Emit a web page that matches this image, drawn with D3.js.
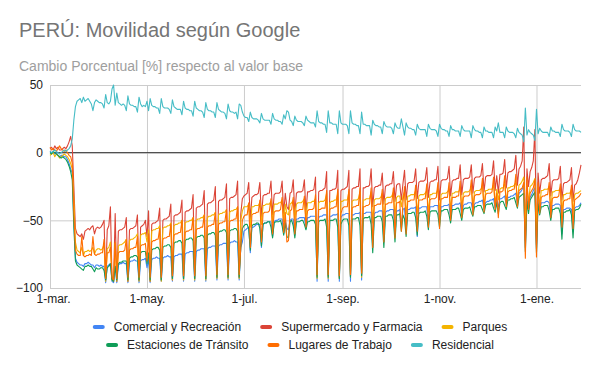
<!DOCTYPE html>
<html>
<head>
<meta charset="utf-8">
<script src="https://cdn.jsdelivr.net/npm/d3@7"></script>
<style>
  body { margin: 0; background: #fff; }
  text { font-family: Arial, "Liberation Sans", sans-serif; }
</style>
</head>
<body>
<svg id="chart"></svg>
<script>
const WIDTH = 600;
const HEIGHT = 371;
const PLOT = { left: 50, right: 581, top: 85, bottom: 288 };

const START_DATE = "2020-03-01";   // daily values, one per day from this date

const seriesNames = ["Comercial y Recreación", "Supermercado y Farmacia", "Parques",
                     "Estaciones de Tránsito", "Lugares de Trabajo", "Residencial"];
const seriesColors = ["#4285f4", "#db4437", "#f4b400", "#0f9d58", "#ff6d01", "#46bdc6"];

const tickDates = ["2020-03-01", "2020-05-01", "2020-07-01", "2020-09-01", "2020-11-01", "2021-01-01"];
const tickLabels = ["1-mar.", "1-may.", "1-jul.", "1-sep.", "1-nov.", "1-ene."];
const yTicks = [-100, -50, 0, 50];

// one line = two weeks (Sun..Sat)
const comercial = [
  1, 0, 0, -1, 0, -2, -3,   -2, -2, -3, -3, -5, -8, -12,
  -15, -50, -78, -81, -82, -83, -83,   -84, -82, -82, -81, -82, -83, -83,
  -85, -83, -83, -84, -83, -84, -84,   -96, -84, -83, -82, -95, -96, -84,
  -96, -83, -82, -82, -81, -82, -82,   -96, -81, -80, -80, -79, -80, -80,
  -96, -80, -79, -79, -78, -85, -79,   -96, -79, -78, -78, -77, -78, -78,
  -95, -78, -77, -77, -76, -77, -77,   -95, -77, -76, -76, -75, -75, -75,
  -95, -75, -74, -74, -73, -73, -73,   -95, -73, -72, -72, -71, -71, -71,
  -95, -71, -70, -70, -69, -69, -69,   -94, -69, -68, -68, -67, -67, -67,
  -94, -67, -66, -66, -65, -66, -66,   -94, -70, -66, -58, -57, -56, -55,
  -74, -55, -55, -54, -53, -53, -53,   -70, -53, -52, -52, -51, -51, -51,
  -62, -51, -50, -50, -49, -49, -49,   -60, -50, -56, -57, -50, -49, -49,
  -61, -49, -49, -48, -48, -48, -48,   -56, -48, -48, -47, -47, -47, -47,
  -95, -48, -47, -47, -46, -46, -46,   -95, -47, -47, -46, -46, -46, -45,
  -95, -48, -46, -46, -45, -45, -45,   -95, -46, -46, -45, -45, -45, -44,
  -94, -45, -45, -44, -44, -44, -44,   -70, -45, -44, -44, -43, -43, -43,
  -66, -44, -43, -43, -42, -42, -42,   -62, -43, -43, -42, -55, -42, -41,
  -58, -42, -42, -41, -41, -41, -40,   -62, -41, -41, -40, -40, -40, -40,
  -54, -40, -40, -40, -39, -39, -39,   -52, -40, -40, -39, -39, -39, -38,
  -49, -39, -39, -38, -38, -38, -37,   -47, -39, -38, -38, -37, -37, -37,
  -44, -38, -37, -37, -36, -36, -35,   -42, -37, -36, -36, -35, -35, -34,
  -41, -35, -40, -34, -34, -33, -32,   -39, -33, -33, -32, -32, -31, -30,
  -38, -30, -29, -27, -25, -70, -32,   -42, -33, -31, -28, -26, -71, -35,
  -44, -37, -37, -37, -36, -36, -37,   -48, -39, -39, -38, -38, -38, -39,
  -60, -42, -42, -41, -41, -41, -42,   -58, -41, -40, -40, -39, -37
];

const supermercado = [
  3, 4, 2, 5, 3, 4, 2,   2, 3, 4, 3, 5, 8, 12,
  5, -25, -56, -60, -61, -62, -60,   -64, -58, -57, -56, -57, -55, -54,
  -60, -56, -55, -56, -55, -53, -50,   -94, -57, -54, -40, -93, -95, -45,
  -95, -58, -57, -57, -56, -55, -48,   -95, -57, -56, -56, -55, -54, -46,
  -94, -55, -54, -53, -50, -62, -43,   -95, -53, -52, -52, -51, -50, -41,
  -94, -50, -49, -49, -48, -47, -38,   -94, -47, -46, -46, -45, -44, -35,
  -93, -44, -43, -43, -42, -41, -31,   -93, -41, -40, -40, -39, -38, -28,
  -93, -38, -37, -37, -36, -35, -25,   -92, -36, -35, -35, -34, -33, -23,
  -92, -34, -33, -33, -32, -31, -21,   -92, -45, -34, -32, -31, -30, -22,
  -50, -33, -32, -31, -31, -30, -22,   -48, -32, -31, -31, -30, -30, -21,
  -46, -31, -30, -30, -30, -29, -21,   -45, -30, -40, -42, -30, -29, -20,
  -45, -30, -29, -29, -29, -28, -20,   -44, -29, -29, -28, -28, -27, -18,
  -91, -29, -28, -28, -27, -26, -14,   -91, -28, -28, -27, -27, -26, -13,
  -92, -28, -27, -27, -26, -25, -13,   -91, -27, -26, -26, -25, -25, -12,
  -90, -26, -26, -25, -25, -24, -12,   -40, -26, -25, -25, -24, -24, -15,
  -38, -25, -24, -24, -23, -23, -14,   -36, -24, -23, -23, -35, -23, -13,
  -35, -23, -22, -22, -22, -21, -12,   -34, -22, -21, -21, -21, -20, -11,
  -33, -22, -21, -21, -20, -20, -10,   -35, -21, -20, -20, -20, -19, -10,
  -32, -21, -20, -20, -19, -19, -9,   -31, -20, -19, -19, -19, -18, -9,
  -30, -19, -18, -18, -18, -17, -8,   -29, -18, -17, -17, -17, -16, -6,
  -28, -17, -30, -16, -16, -15, -5,   -26, -15, -14, -14, -13, -12, -2,
  -24, -12, -10, -6, 19, -65, -12,   -25, -14, -11, -6, 17, -68, -15,
  -30, -20, -19, -19, -18, -17, -8,   -32, -21, -20, -20, -20, -19, -10,
  -35, -23, -22, -22, -21, -20, -11,   -36, -24, -23, -20, -15, -9
];

const parques = [
  -2, -1, 0, -3, -1, -2, -4,   -3, -2, -1, -2, -3, -5, -8,
  -12, -35, -66, -72, -73, -74, -70,   -76, -73, -73, -72, -73, -72, -70,
  -75, -72, -71, -71, -72, -71, -68,   -95, -71, -70, -66, -94, -95, -67,
  -95, -69, -68, -68, -67, -66, -64,   -95, -65, -64, -64, -63, -62, -60,
  -95, -61, -60, -60, -59, -66, -57,   -95, -58, -57, -57, -56, -56, -54,
  -95, -56, -55, -55, -54, -54, -52,   -94, -54, -53, -53, -52, -52, -50,
  -94, -52, -51, -51, -50, -50, -48,   -94, -50, -49, -49, -48, -48, -46,
  -94, -48, -47, -47, -46, -46, -44,   -93, -46, -45, -45, -44, -44, -42,
  -93, -44, -43, -43, -42, -42, -40,   -93, -50, -43, -40, -40, -40, -38,
  -55, -40, -40, -39, -39, -39, -37,   -53, -39, -39, -38, -38, -38, -36,
  -52, -38, -38, -38, -37, -37, -35,   -51, -38, -45, -46, -38, -37, -35,
  -50, -38, -37, -37, -37, -36, -34,   -50, -37, -37, -37, -36, -36, -34,
  -93, -37, -36, -36, -36, -35, -30,   -93, -37, -36, -36, -35, -35, -30,
  -93, -36, -36, -35, -35, -35, -29,   -92, -36, -35, -35, -35, -34, -29,
  -92, -35, -35, -34, -34, -34, -29,   -52, -35, -34, -34, -34, -33, -30,
  -50, -34, -33, -33, -33, -32, -29,   -48, -33, -32, -32, -40, -32, -29,
  -46, -32, -32, -31, -31, -31, -28,   -45, -32, -31, -31, -31, -30, -28,
  -44, -31, -31, -30, -30, -30, -27,   -44, -31, -30, -30, -30, -29, -27,
  -42, -30, -30, -29, -29, -29, -26,   -41, -30, -29, -29, -29, -28, -26,
  -40, -29, -28, -28, -28, -27, -25,   -39, -28, -28, -27, -27, -27, -24,
  -38, -27, -35, -27, -26, -26, -23,   -37, -26, -26, -25, -25, -24, -22,
  -36, -24, -23, -21, -18, -55, -24,   -37, -25, -24, -22, -19, -56, -25,
  -40, -28, -28, -27, -27, -27, -25,   -42, -29, -29, -28, -28, -28, -26,
  -45, -31, -31, -30, -30, -30, -27,   -45, -31, -30, -30, -29, -28
];

const estaciones = [
  0, -1, 1, 0, -1, -2, -3,   -4, -3, -4, -5, -7, -10, -14,
  -20, -55, -80, -83, -84, -85, -86,   -87, -84, -84, -83, -84, -84, -86,
  -88, -85, -86, -86, -85, -85, -87,   -94, -85, -84, -82, -94, -95, -84,
  -94, -82, -81, -81, -80, -80, -80,   -94, -78, -77, -77, -76, -76, -77,
  -94, -74, -73, -73, -73, -82, -74,   -94, -72, -71, -71, -70, -70, -72,
  -94, -70, -69, -69, -68, -68, -70,   -93, -67, -66, -66, -65, -65, -67,
  -93, -65, -64, -64, -63, -63, -65,   -93, -63, -62, -62, -61, -61, -63,
  -93, -61, -60, -60, -59, -59, -61,   -92, -59, -58, -58, -57, -57, -59,
  -92, -58, -57, -57, -56, -56, -58,   -92, -70, -56, -54, -53, -53, -56,
  -72, -54, -53, -53, -52, -52, -56,   -69, -53, -52, -52, -51, -51, -55,
  -63, -52, -51, -51, -51, -50, -54,   -61, -52, -62, -63, -51, -50, -54,
  -63, -51, -51, -51, -50, -50, -53,   -57, -51, -51, -50, -50, -50, -53,
  -92, -51, -50, -50, -50, -49, -55,   -92, -50, -50, -50, -49, -49, -55,
  -93, -53, -50, -49, -49, -49, -54,   -92, -49, -49, -49, -48, -48, -54,
  -91, -49, -48, -48, -48, -47, -53,   -74, -48, -48, -47, -47, -47, -51,
  -70, -47, -47, -46, -46, -46, -50,   -66, -46, -46, -45, -58, -46, -49,
  -62, -45, -45, -45, -44, -44, -48,   -61, -45, -44, -44, -44, -43, -47,
  -57, -44, -43, -43, -43, -43, -46,   -55, -43, -43, -42, -42, -42, -46,
  -52, -42, -42, -42, -41, -41, -45,   -50, -42, -41, -41, -41, -40, -44,
  -47, -40, -40, -39, -39, -39, -42,   -45, -39, -38, -38, -38, -37, -41,
  -44, -37, -45, -37, -36, -36, -39,   -42, -35, -35, -34, -34, -33, -37,
  -41, -33, -32, -31, -30, -73, -36,   -45, -35, -33, -31, -29, -74, -38,
  -46, -40, -40, -39, -39, -39, -43,   -50, -42, -42, -41, -41, -41, -45,
  -64, -44, -44, -43, -43, -42, -46,   -63, -43, -42, -42, -41, -38
];

const lugares = [
  4, 2, 3, 2, 1, 3, 5,   3, 2, 1, 2, 0, -2, -3,
  -8, -45, -72, -75, -76, -76, -62,   -76, -77, -76, -76, -75, -76, -62,
  -75, -76, -75, -75, -74, -74, -64,   -93, -74, -74, -70, -92, -94, -66,
  -93, -74, -73, -73, -73, -72, -64,   -92, -72, -71, -71, -70, -70, -62,
  -92, -69, -68, -68, -67, -80, -60,   -92, -66, -65, -65, -64, -64, -56,
  -92, -64, -63, -63, -62, -62, -53,   -91, -61, -60, -60, -59, -59, -50,
  -91, -59, -58, -58, -57, -57, -48,   -91, -57, -56, -56, -55, -55, -46,
  -91, -55, -54, -54, -53, -53, -44,   -90, -53, -52, -52, -51, -51, -42,
  -90, -51, -50, -50, -49, -49, -40,   -90, -70, -50, -47, -46, -46, -37,
  -70, -46, -45, -45, -44, -44, -35,   -66, -45, -44, -44, -44, -43, -34,
  -60, -44, -43, -43, -43, -42, -33,   -59, -44, -66, -65, -43, -42, -33,
  -60, -43, -43, -42, -42, -42, -32,   -55, -43, -42, -42, -42, -41, -31,
  -90, -42, -42, -41, -41, -41, -28,   -90, -42, -41, -41, -40, -40, -27,
  -91, -45, -41, -40, -40, -40, -27,   -90, -41, -40, -40, -39, -39, -26,
  -89, -40, -40, -39, -39, -38, -26,   -70, -39, -39, -38, -38, -38, -27,
  -66, -38, -38, -37, -37, -37, -26,   -63, -37, -37, -36, -58, -37, -25,
  -60, -36, -36, -35, -35, -35, -24,   -58, -35, -35, -35, -34, -34, -23,
  -55, -35, -34, -34, -34, -33, -22,   -56, -34, -34, -33, -33, -33, -22,
  -50, -33, -33, -33, -32, -32, -21,   -48, -33, -32, -32, -32, -31, -20,
  -46, -32, -31, -31, -31, -30, -19,   -44, -31, -30, -30, -30, -29, -18,
  -42, -30, -48, -29, -29, -28, -17,   -40, -29, -28, -28, -27, -27, -16,
  -40, -28, -27, -26, -22, -78, -18,   -42, -30, -28, -26, -20, -77, -22,
  -45, -33, -32, -32, -31, -31, -22,   -48, -34, -33, -33, -33, -32, -23,
  -55, -36, -35, -35, -34, -34, -24,   -56, -35, -34, -33, -32, -30
];

const residencial = [
  1, 0, 1, 2, 1, 0, -1,   0, 1, 2, 1, 2, 3, 5,
  10, 24, 34, 38, 39, 40, 37,   41, 38, 39, 40, 38, 36, 31,
  37, 39, 38, 37, 37, 36, 33,   43, 37, 36, 38, 47, 50, 35,
  44, 37, 36, 35, 36, 35, 31,   42, 36, 35, 35, 34, 34, 30,
  41, 36, 34, 35, 34, 38, 31,   40, 35, 34, 34, 33, 33, 29,
  40, 34, 33, 33, 33, 32, 29,   39, 34, 33, 32, 32, 32, 28,
  38, 33, 32, 32, 31, 31, 27,   38, 33, 32, 31, 31, 30, 26,
  37, 32, 31, 31, 30, 30, 26,   37, 32, 31, 30, 30, 29, 25,
  36, 31, 30, 30, 29, 30, 25,   36, 35, 30, 27, 26, 26, 23,
  30, 26, 25, 25, 25, 24, 22,   29, 25, 24, 24, 24, 24, 21,
  29, 25, 24, 24, 23, 23, 21,   28, 25, 31, 30, 24, 23, 20,
  27, 24, 23, 23, 23, 22, 20,   27, 24, 23, 22, 22, 22, 19,
  31, 23, 22, 22, 21, 21, 15,   31, 22, 22, 21, 21, 21, 14,
  31, 22, 21, 21, 21, 20, 14,   31, 22, 21, 21, 20, 20, 14,
  30, 21, 21, 20, 20, 20, 13,   24, 21, 20, 20, 19, 19, 14,
  23, 20, 19, 19, 19, 18, 14,   22, 19, 18, 18, 25, 19, 13,
  22, 19, 18, 18, 17, 17, 13,   21, 18, 17, 17, 17, 17, 12,
  21, 18, 17, 17, 17, 16, 12,   21, 18, 17, 17, 16, 16, 12,
  20, 17, 17, 16, 16, 16, 12,   20, 17, 16, 16, 16, 16, 11,
  20, 17, 16, 16, 15, 15, 11,   19, 16, 16, 15, 15, 15, 11,
  19, 16, 22, 15, 15, 15, 11,   19, 16, 15, 15, 15, 14, 11,
  18, 15, 14, 13, 8, 33, 13,   17, 15, 14, 13, 9, 32, 14,
  18, 16, 15, 15, 15, 15, 12,   19, 16, 16, 15, 15, 15, 12,
  21, 17, 16, 16, 16, 15, 12,   21, 17, 16, 16, 16, 15
];

const seriesValues = [comercial, supermercado, parques, estaciones, lugares, residencial];

const parseDate = d3.timeParse("%Y-%m-%d");
const start = parseDate(START_DATE);
const dates = comercial.map((_, i) => d3.timeDay.offset(start, i));

const svg = d3.select("#chart")
    .attr("width", WIDTH)
    .attr("height", HEIGHT);

svg.append("rect").attr("width", WIDTH).attr("height", HEIGHT).attr("fill", "#fff");

const x = d3.scaleTime()
    .domain([dates[0], dates[dates.length - 1]])
    .range([PLOT.left, PLOT.right]);

const y = d3.scaleLinear()
    .domain([-100, 50])
    .range([PLOT.bottom, PLOT.top]);

// titles
svg.append("text")
    .attr("x", 19).attr("y", 37)
    .attr("font-size", 20).attr("fill", "#757575")
    .text("PERÚ: Movilidad según Google");

svg.append("text")
    .attr("x", 19).attr("y", 71)
    .attr("font-size", 14).attr("fill", "#9e9e9e")
    .text("Cambio Porcentual [%] respecto al valor base");

// horizontal gridlines + y labels
const yAxis = svg.append("g")
    .attr("transform", `translate(${PLOT.left},0)`)
    .call(d3.axisLeft(y).tickValues(yTicks).tickSize(-(PLOT.right - PLOT.left)).tickPadding(7));
yAxis.select(".domain").remove();
yAxis.selectAll(".tick line").attr("stroke", "#cccccc");
yAxis.selectAll(".tick text")
    .attr("font-size", 12).attr("fill", "#222")
    .attr("font-family", "Arial, 'Liberation Sans', sans-serif");

// vertical gridlines + x labels
const xAxis = svg.append("g")
    .attr("transform", `translate(0,${PLOT.bottom})`)
    .call(d3.axisBottom(x)
        .tickValues(tickDates.map(parseDate))
        .tickFormat((d, i) => tickLabels[i])
        .tickSize(-(PLOT.bottom - PLOT.top))
        .tickPadding(6));
xAxis.select(".domain").remove();
xAxis.selectAll(".tick line").attr("stroke", "#cccccc");
xAxis.selectAll(".tick text")
    .attr("font-size", 12).attr("fill", "#222")
    .attr("font-family", "Arial, 'Liberation Sans', sans-serif");
// first label sits a little to the right of its gridline
xAxis.selectAll(".tick text").filter((d, i) => i === 0).attr("dx", 3);

// baseline at zero
svg.append("line")
    .attr("x1", PLOT.left).attr("x2", PLOT.right)
    .attr("y1", y(0)).attr("y2", y(0))
    .attr("stroke", "#333").attr("stroke-width", 1);

// series lines
const line = d3.line()
    .x((d, i) => x(dates[i]))
    .y(d => y(d));

svg.append("g")
    .selectAll("path")
    .data(seriesValues)
    .join("path")
    .attr("d", d => line(d))
    .attr("fill", "none")
    .attr("stroke", (d, i) => seriesColors[i])
    .attr("stroke-width", 1.1)
    .attr("stroke-linejoin", "round");

// legend, two centred rows
const legendRows = [[0, 1, 2], [3, 4, 5]];
const legendY = [327, 345];
const legend = svg.append("g");

legendRows.forEach((row, r) => {
    const g = legend.append("g");
    let cursor = 0;
    row.forEach(k => {
        g.append("rect")
            .attr("x", cursor).attr("y", legendY[r] - 2)
            .attr("width", 12).attr("height", 4).attr("rx", 2)
            .attr("fill", seriesColors[k]);
        const t = g.append("text")
            .attr("x", cursor + 21).attr("y", legendY[r] + 4)
            .attr("font-size", 12).attr("fill", "#222")
            .text(seriesNames[k]);
        cursor += 21 + t.node().getComputedTextLength() + 19;
    });
    const total = cursor - 19;
    g.attr("transform", `translate(${(WIDTH - total) / 2},0)`);
});
</script>
</body>
</html>
